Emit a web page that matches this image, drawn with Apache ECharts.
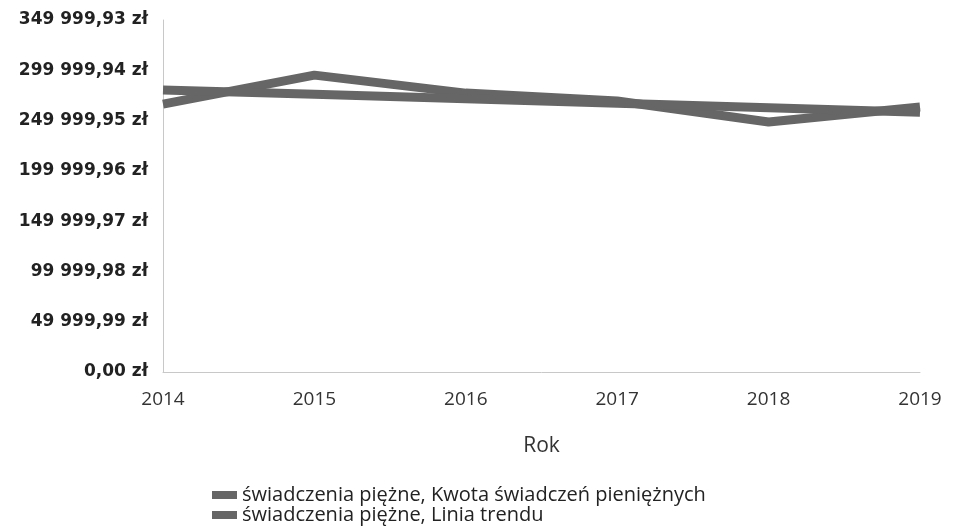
<!DOCTYPE html>
<html>
<head>
<meta charset="utf-8">
<script src="https://cdn.jsdelivr.net/npm/echarts@6/dist/echarts.min.js"></script>
<style>
  html, body { margin: 0; padding: 0; background: #fff; }
  #chart { width: 956px; height: 531px; }
</style>
</head>
<body>
<div id="chart"></div>
<script>
// lata
const years = ['2014', '2015', '2016', '2017', '2018', '2019'];
// kwota świadczeń pieniężnych
const amounts = [266400, 295200, 277300, 269400, 248500, 263400];
// linia trendu
const trend = [280500, 276200, 271800, 267300, 262800, 258300];
const seriesNames = [
  'świadczenia piężne, Kwota świadczeń pieniężnych',
  'świadczenia piężne, Linia trendu'
];
const yStep = 49999.99;
const yMax = 349999.93;

function formatZl(v) {
  const parts = v.toFixed(2).split('.');
  const intPart = parts[0].replace(/\B(?=(\d{3})+(?!\d))/g, ' ');
  return intPart + ',' + parts[1] + ' zł';
}

const chart = echarts.init(document.getElementById('chart'));
chart.setOption({
  animation: false,
  textStyle: { fontFamily: 'Open Sans' },
  grid: { left: 163, right: 36, top: 20, bottom: 159 },
  legend: {
    orient: 'vertical',
    left: 212,
    top: 485,
    height: 60,
    itemWidth: 25,
    itemHeight: 8,
    itemGap: 0,
    icon: 'rect',
    padding: 0,
    textStyle: { fontSize: 20, lineHeight: 20, color: '#222', fontFamily: 'Open Sans' },
    data: seriesNames
  },
  xAxis: {
    type: 'category',
    data: years,
    boundaryGap: false,
    name: 'Rok',
    nameLocation: 'middle',
    nameGap: 64,
    nameTextStyle: { fontSize: 21, color: '#333' },
    axisLine: { lineStyle: { color: '#c8c8c8', width: 1 } },
    axisTick: { show: false },
    axisLabel: { fontSize: 19, color: '#333', margin: 18 }
  },
  yAxis: {
    type: 'value',
    min: 0,
    max: yMax,
    interval: yStep,
    axisLine: { show: true, lineStyle: { color: '#c8c8c8', width: 1 } },
    axisTick: { show: false },
    splitLine: { show: false },
    axisLabel: {
      fontSize: 17,
      fontWeight: 'bold',
      fontFamily: 'DejaVu Sans',
      color: '#222',
      margin: 15,
      formatter: formatZl
    }
  },
  series: [
    {
      name: seriesNames[0],
      type: 'line',
      data: amounts,
      symbol: 'none',
      lineStyle: { width: 9, color: '#666' },
      itemStyle: { color: '#666' }
    },
    {
      name: seriesNames[1],
      type: 'line',
      data: trend,
      symbol: 'none',
      lineStyle: { width: 9, color: '#666' },
      itemStyle: { color: '#666' }
    }
  ]
});
</script>
</body>
</html>
